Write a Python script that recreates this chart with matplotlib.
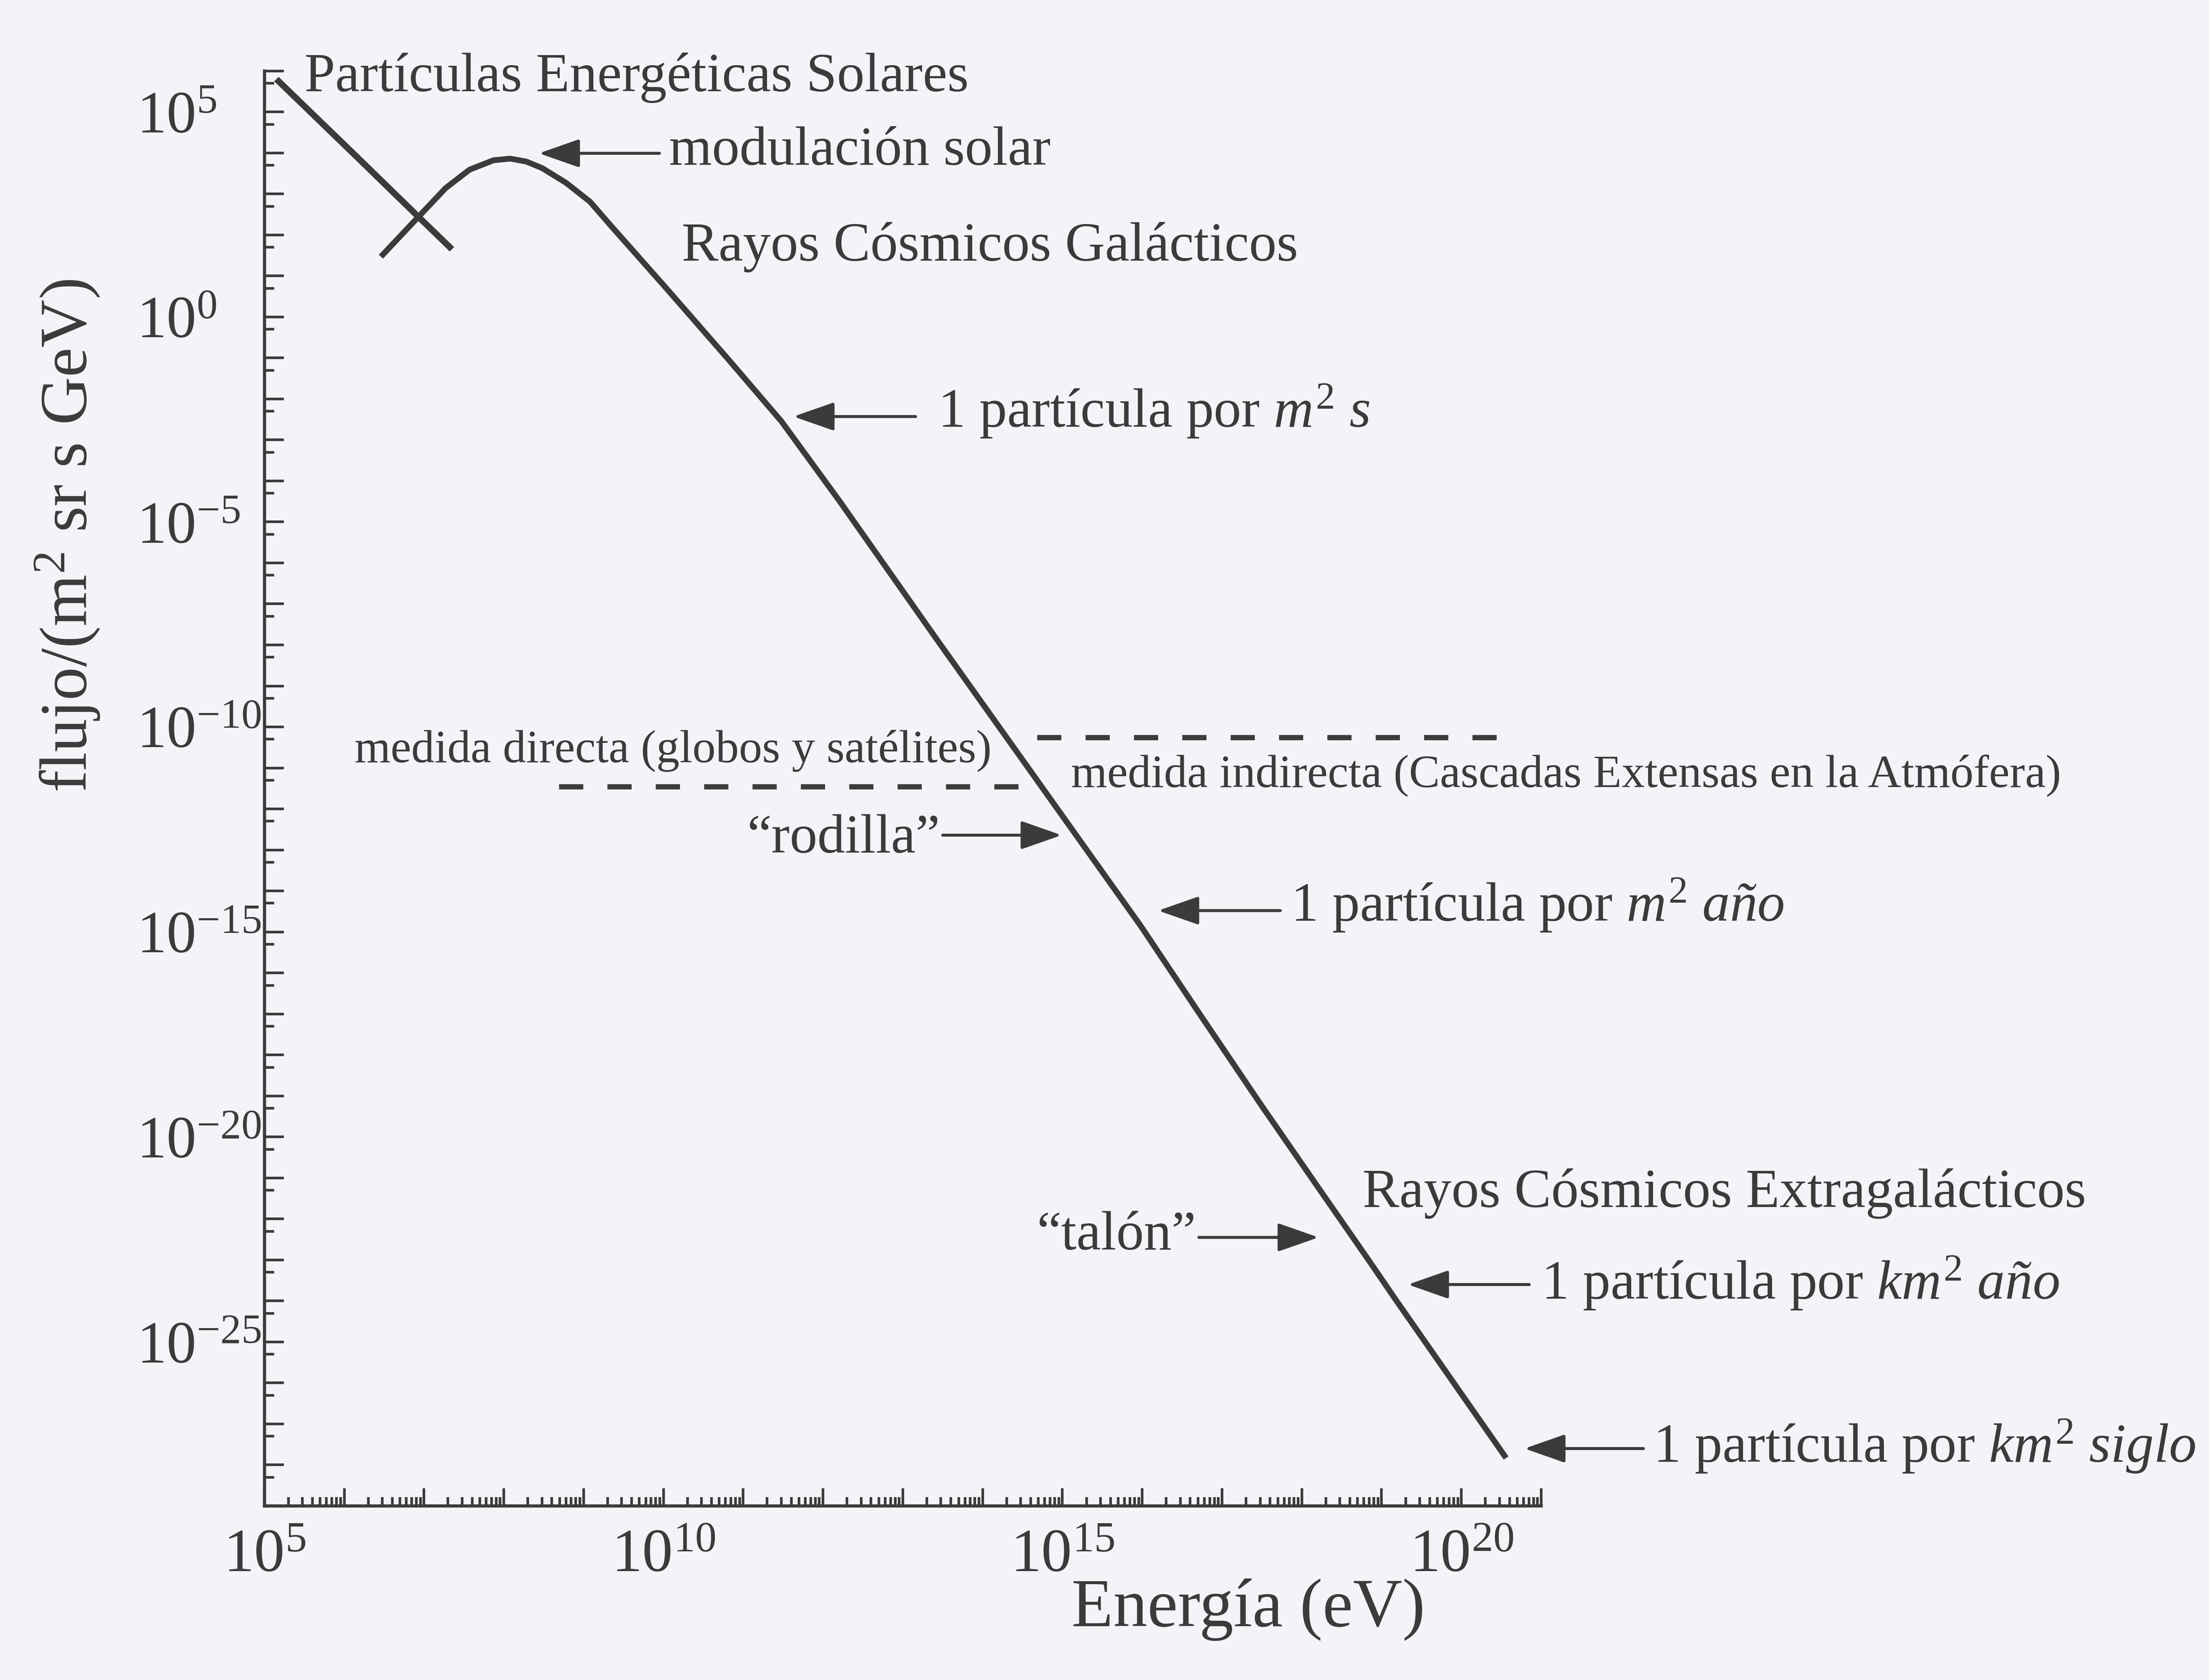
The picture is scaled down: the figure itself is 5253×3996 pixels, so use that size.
import numpy as np
import matplotlib
matplotlib.use("Agg")
import matplotlib.pyplot as plt
from matplotlib.ticker import FixedLocator, FuncFormatter, LogLocator, NullFormatter

# fonts: serif, like the printed figure
plt.rcParams['font.family'] = ['Liberation Serif', 'DejaVu Serif']
plt.rcParams['mathtext.fontset'] = 'custom'
plt.rcParams['mathtext.rm'] = 'Liberation Serif'
plt.rcParams['mathtext.it'] = 'Liberation Serif:italic'
plt.rcParams['mathtext.bf'] = 'Liberation Serif:bold'

# data (log10 of energy in eV, log10 of flux)
solar_logE = [5.15, 6.16, 6.92, 7.35]
solar_logF = [5.80, 3.90, 2.46, 1.65]

gcr_logE = [6.46, 6.92, 7.27, 7.57, 7.87, 8.08, 8.28, 8.48, 8.78, 9.08,
            9.33, 10.04, 10.82, 11.48, 12.21, 13.42, 15.19, 15.98, 16.73,
            17.49, 18.24, 18.85, 19.18, 20.56]
gcr_logF = [1.47, 2.42, 3.14, 3.59, 3.82, 3.86, 3.79, 3.63, 3.27, 2.81,
            2.25, 0.69, -1.05, -2.55, -4.50, -7.85, -12.69, -14.85, -17.03,
            -19.22, -21.33, -23.04, -23.98, -27.83]

# measurement regimes (dashed lines)
direct_logE = [8.69, 14.61]
direct_logF = -11.46
indirect_logE = [14.68, 20.53]
indirect_logF = -10.26

x_tick_labels = [5, 10, 15, 20]
y_tick_labels = [5, 0, -5, -10, -15, -20, -25]

ink = '#3b3b3b'
paper = '#f3f4f8'

fig = plt.figure(figsize=(5253 / 300, 3996 / 300), dpi=300, facecolor=paper)
ax = fig.add_axes([0.1197, 0.1036, 0.578, 0.8542])
ax.set_facecolor('none')

ax.set_xscale('log')
ax.set_yscale('log')
ax.set_xlim(1e5, 1e21)
ax.set_ylim(1e-29, 1e6)

# curves
ax.plot(10.0 ** np.array(solar_logE), 10.0 ** np.array(solar_logF),
        color=ink, lw=3.6, solid_capstyle='butt', solid_joinstyle='round')
ax.plot(10.0 ** np.array(gcr_logE), 10.0 ** np.array(gcr_logF),
        color=ink, lw=3.3, solid_joinstyle='round', solid_capstyle='butt')

# dashed separators
ax.plot(10.0 ** np.array(direct_logE), [10.0 ** direct_logF] * 2,
        color=ink, lw=3.0, linestyle=(0, (4.6, 4.6)))
ax.plot(10.0 ** np.array(indirect_logE), [10.0 ** indirect_logF] * 2,
        color=ink, lw=3.0, linestyle=(0, (4.6, 4.6)))

# spines and ticks
ax.spines['top'].set_visible(False)
ax.spines['right'].set_visible(False)
for s in ['left', 'bottom']:
    ax.spines[s].set_linewidth(1.8)
    ax.spines[s].set_color(ink)


def fmt_pow(v, pos, shown):
    e = int(round(np.log10(v)))
    if e in shown:
        return r'$\mathdefault{10^{%d}}$' % e
    return ''


ax.xaxis.set_major_locator(FixedLocator([10.0 ** k for k in range(5, 22)]))
ax.xaxis.set_minor_locator(LogLocator(base=10, subs=np.arange(2, 10), numticks=400))
ax.xaxis.set_major_formatter(FuncFormatter(lambda v, p: fmt_pow(v, p, x_tick_labels)))
ax.xaxis.set_minor_formatter(NullFormatter())

ax.yaxis.set_major_locator(FixedLocator([10.0 ** k for k in range(-29, 7)]))
ax.yaxis.set_minor_locator(FixedLocator([5 * 10.0 ** k for k in range(-30, 6)]))
ax.yaxis.set_major_formatter(FuncFormatter(lambda v, p: fmt_pow(v, p, y_tick_labels)))
ax.yaxis.set_minor_formatter(NullFormatter())

ax.tick_params(axis='both', which='both', direction='in', color=ink, labelcolor=ink,
               width=1.5)
ax.tick_params(axis='x', which='major', length=10, pad=13, labelsize=35)
ax.tick_params(axis='x', which='minor', length=5)
ax.tick_params(axis='y', which='major', length=11, pad=73, labelsize=34)
ax.tick_params(axis='y', which='minor', length=5.5)
# y labels start at the same left edge in the original
for t in ax.get_yticklabels():
    t.set_horizontalalignment('left')

# axis titles
fig.text(0.565, 0.0418, 'Energía (eV)', fontsize=39, color=ink, ha='center', va='center')
fig.text(0.0306, 0.681, r'flujo/(m$^{2}$ sr s GeV)', fontsize=38, color=ink,
         ha='center', va='center', rotation=90)


def P(lx, ly):
    return (10.0 ** lx, 10.0 ** ly)


def arrow(tail, tip):
    ax.annotate('', xy=P(*tip), xytext=P(*tail), annotation_clip=False,
                arrowprops=dict(arrowstyle='-|>,head_length=0.8,head_width=0.28',
                                lw=1.7, color=ink, mutation_scale=25,
                                shrinkA=0, shrinkB=0))


def label(lx, ly, s, size=31.5, ha='left'):
    ax.text(10.0 ** lx, 10.0 ** ly, s, fontsize=size, color=ink, ha=ha,
            va='baseline', clip_on=False)


label(5.5, 5.50, 'Partículas Energéticas Solares')

arrow((9.95, 3.99), (8.44, 3.99))
label(10.07, 3.71, 'modulación solar')

label(10.23, 1.37, 'Rayos Cósmicos Galácticos')

arrow((13.16, -2.43), (11.63, -2.43))
label(13.44, -2.69, r'1 partícula por $m^{2}\ s$')

label(6.13, -10.86, 'medida directa (globos y satélites)', size=26.5)
label(15.11, -11.46, 'medida indirecta (Cascadas Extensas en la Atmófera)', size=26.5)

arrow((13.5, -12.64), (14.99, -12.64))
label(13.47, -13.07, '“rodilla”', ha='right')

arrow((17.73, -14.48), (16.2, -14.48))
label(17.86, -14.74, r'1 partícula por $m^{2}\ \mathit{año}$')

label(18.76, -21.71, 'Rayos Cósmicos Extragalácticos')

arrow((16.71, -22.45), (18.21, -22.45))
label(16.68, -22.74, '“talón”', ha='right')

arrow((20.85, -23.6), (19.33, -23.6))
label(21.0, -23.96, r'1 partícula por $km^{2}\ \mathit{año}$')

arrow((22.28, -27.6), (20.79, -27.6))
label(22.4, -27.93, r'1 partícula por $km^{2}\ siglo$')

fig.savefig('out.png', dpi=300, facecolor=paper)
